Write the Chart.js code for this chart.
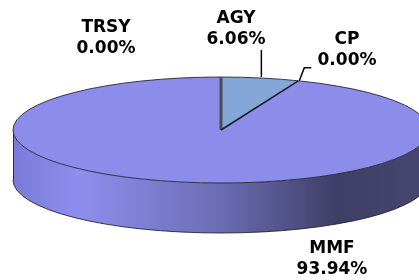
<!DOCTYPE html>
<html>
<head>
<meta charset="utf-8">
<script src="https://cdn.jsdelivr.net/npm/chart.js@4.4.1/dist/chart.umd.min.js"></script>
<style>
html,body{margin:0;padding:0;background:#fff;}
#wrap{width:419px;height:280px;position:relative;}
</style>
</head>
<body>
<div id="wrap"><canvas id="c" width="419" height="280"></canvas></div>
<script>
const categories = ['AGY', 'CP', 'MMF', 'TRSY'];
const shares = [6.06, 0.00, 93.94, 0.00];
const percentLabels = ['6.06%', '0.00%', '93.94%', '0.00%'];
const sliceColors = ['#84A7D7', '#C8C864', '#8C8CEB', '#9999FF'];

// visual geometry of the 3D ellipse
const RX = 208, RY = 53, DEPTH = 50;
const FONT = 'bold 17px "DejaVu Sans", Verdana, sans-serif';

const labelLayout = {
  AGY:  {x: 236, y: 23, leader: 'up'},
  CP:   {x: 347, y: 44, leader: 'elbow'},
  MMF:  {x: 332, y: 253, leader: null},
  TRSY: {x: 106, y: 32, leader: null}
};

function ellPt(cx, cy, a) { return [cx + RX * Math.cos(a), cy + RY * Math.sin(a)]; }

const pie3d = {
  id: 'pie3d',
  beforeDatasetsDraw(chart) {
    const ctx = chart.ctx;
    const arcs = chart.getDatasetMeta(0).data;
    if (!arcs.length) return;
    const p0 = arcs[0].getProps(['x', 'y', 'outerRadius'], true);
    const cx = p0.x, cy = p0.y, R = p0.outerRadius;
    // side wall
    const g = ctx.createLinearGradient(cx - RX, 0, cx + RX, 0);
    g.addColorStop(0, 'rgb(122,122,216)');
    g.addColorStop(0.16, 'rgb(142,142,238)');
    g.addColorStop(0.5, 'rgb(108,108,180)');
    g.addColorStop(0.78, 'rgb(62,62,102)');
    g.addColorStop(1, 'rgb(70,70,112)');
    arcs.forEach((arc) => {
      const p = arc.getProps(['startAngle', 'endAngle'], true);
      if (p.endAngle - p.startAngle <= 0) return;
      [0, 2 * Math.PI, -2 * Math.PI].forEach((shift) => {
        const a = Math.max(p.startAngle, shift);
        const b = Math.min(p.endAngle, shift + Math.PI);
        if (b <= a) return;
        ctx.save();
        ctx.beginPath();
        ctx.ellipse(cx, cy, RX, RY, 0, a, b, false);
        ctx.ellipse(cx, cy + DEPTH, RX, RY, 0, b, a, true);
        ctx.closePath();
        ctx.fillStyle = g;
        ctx.fill();
        ctx.restore();
      });
    });
    // outline of side
    ctx.save();
    ctx.strokeStyle = 'rgba(30,30,45,0.85)';
    ctx.lineWidth = 1;
    ctx.beginPath();
    ctx.ellipse(cx, cy + DEPTH, RX, RY, 0, 0, Math.PI, false);
    ctx.stroke();
    ctx.beginPath();
    ctx.moveTo(cx - RX + 0.5, cy);
    ctx.lineTo(cx - RX + 0.5, cy + DEPTH);
    ctx.stroke();
    ctx.restore();
    // squash the pie into an ellipse
    ctx.save();
    ctx.translate(cx, cy);
    ctx.scale(RX / R, RY / R);
    ctx.translate(-cx, -cy);
  },
  afterDatasetsDraw(chart) {
    const ctx = chart.ctx;
    ctx.restore();
    const arcs = chart.getDatasetMeta(0).data;
    if (!arcs.length) return;
    const p0 = arcs[0].getProps(['x', 'y'], true);
    const cx = p0.x, cy = p0.y;
    // top rim
    ctx.save();
    ctx.strokeStyle = 'rgba(30,30,45,0.85)';
    ctx.lineWidth = 1;
    ctx.beginPath();
    ctx.ellipse(cx, cy, RX, RY, 0, 0, Math.PI * 2);
    ctx.stroke();
    // slice edges
    arcs.forEach((arc, i) => {
      const p = arc.getProps(['startAngle', 'endAngle'], true);
      if (p.endAngle - p.startAngle <= 0 || shares[i] >= 50) return;
      const s = ellPt(cx, cy, p.startAngle);
      ctx.strokeStyle = '#4a4a58';
      ctx.lineWidth = 3;
      ctx.beginPath();
      ctx.moveTo(cx, cy);
      ctx.lineTo(s[0], s[1]);
      ctx.stroke();
      const e = ellPt(cx, cy, p.endAngle);
      ctx.strokeStyle = '#1a1a2a';
      ctx.lineWidth = 1.5;
      ctx.beginPath();
      ctx.moveTo(cx, cy);
      ctx.lineTo(e[0], e[1]);
      ctx.stroke();
    });
    // leader lines
    ctx.strokeStyle = '#000';
    ctx.lineWidth = 1.5;
    arcs.forEach((arc, i) => {
      const lay = labelLayout[categories[i]];
      if (!lay || !lay.leader) return;
      const p = arc.getProps(['startAngle', 'endAngle'], true);
      const m = ellPt(cx, cy, (p.startAngle + p.endAngle) / 2);
      ctx.beginPath();
      if (lay.leader === 'up') {
        ctx.moveTo(m[0] + 1, m[1] - 1);
        ctx.lineTo(m[0] + 1, m[1] - 28);
      } else {
        ctx.moveTo(m[0] + 1, m[1]);
        ctx.lineTo(m[0] + 6, m[1] - 13);
        ctx.lineTo(m[0] + 13, m[1] - 13);
      }
      ctx.stroke();
    });
    ctx.restore();
  },
  afterDraw(chart) {
    const ctx = chart.ctx;
    ctx.save();
    ctx.font = FONT;
    ctx.fillStyle = '#000';
    ctx.textAlign = 'center';
    ctx.textBaseline = 'alphabetic';
    categories.forEach((c, i) => {
      const lay = labelLayout[c];
      ctx.fillText(c, lay.x, lay.y);
      ctx.fillText(percentLabels[i], lay.x, lay.y + 21);
    });
    ctx.restore();
  }
};

new Chart(document.getElementById('c'), {
  type: 'pie',
  data: {
    labels: categories,
    datasets: [{
      data: shares,
      backgroundColor: sliceColors,
      borderWidth: 0,
      radius: 208,
      clip: false
    }]
  },
  options: {
    responsive: false,
    animation: false,
    events: [],
    layout: {padding: {left: 23, right: 0, top: 0, bottom: 20}},
    plugins: {legend: {display: false}, tooltip: {enabled: false}}
  },
  plugins: [pie3d]
});
</script>
</body>
</html>
